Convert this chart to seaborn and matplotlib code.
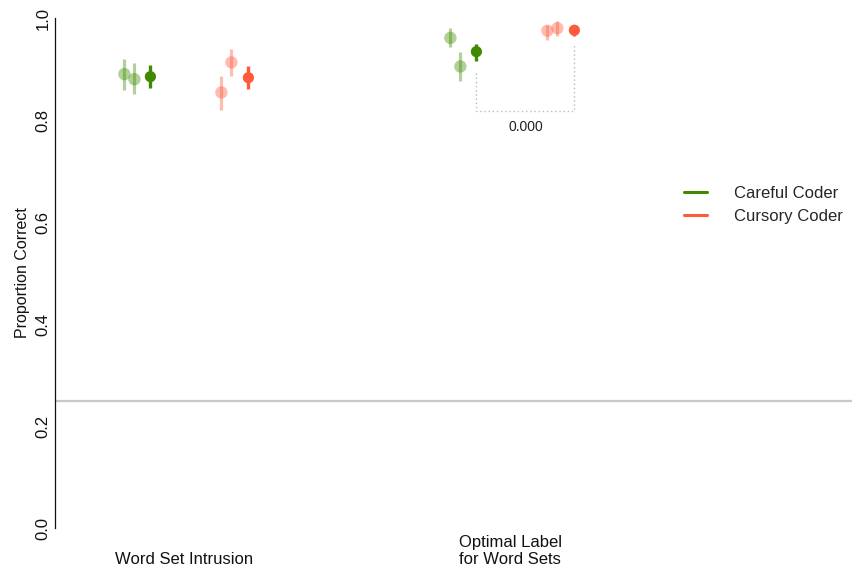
import matplotlib
matplotlib.use("Agg")
import matplotlib.pyplot as plt
import matplotlib.transforms as mtransforms
from matplotlib.lines import Line2D
import seaborn as sns
import pandas as pd
import numpy as np

# ---------------- data ----------------
tasks = ["Word Set Intrusion", "Optimal Label\nfor Word Sets"]
coders = ["Careful Coder", "Cursory Coder"]
kinds = ["sub1", "sub2", "mean"]

careful_val = [[0.890, 0.880, 0.885], [0.961, 0.905, 0.934]]
careful_lo = [[0.859, 0.851, 0.863], [0.943, 0.877, 0.916]]
careful_hi = [[0.920, 0.911, 0.907], [0.980, 0.933, 0.950]]

cursory_val = [[0.854, 0.913, 0.883], [0.975, 0.980, 0.976]]
cursory_lo = [[0.820, 0.887, 0.861], [0.957, 0.965, 0.965]]
cursory_hi = [[0.886, 0.939, 0.905], [0.986, 0.994, 0.986]]

chance_level = 0.25
bracket_label = "0.000"

# ---------------- styling ----------------
colors = {"Careful Coder": "#3F8A00", "Cursory Coder": "#FF5A3A"}
offsets = {"Careful Coder": [-60 / 326, -50 / 326, -34 / 326],
           "Cursory Coder": [37 / 326, 47 / 326, 64 / 326]}

rows = []
for ti, t in enumerate(tasks):
    for c, vals, los, his in [("Careful Coder", careful_val, careful_lo, careful_hi),
                              ("Cursory Coder", cursory_val, cursory_lo, cursory_hi)]:
        for ki, k in enumerate(kinds):
            rows.append(dict(task=t, coder=c, kind=k, x=ti + offsets[c][ki],
                             y=vals[ti][ki], lo=los[ti][ki], hi=his[ti][ki]))
df = pd.DataFrame(rows)

sns.set_theme(style="white")
plt.rcParams["font.family"] = ["Liberation Sans", "DejaVu Sans"]

fig = plt.figure(figsize=(8.52, 5.71), dpi=100)
ax = fig.add_axes([55 / 852, 43 / 571, 1 - 55 / 852, 510 / 571])

# chance line
ax.axhline(chance_level, color="#C8C8C8", lw=1.6, zorder=1)

light = df[df.kind != "mean"]
dark = df[df.kind == "mean"]

for _, r in light.iterrows():
    ax.vlines(r.x, r.lo, r.hi, color=colors[r.coder], alpha=0.4, lw=2.3, zorder=2)
sns.scatterplot(data=light, x="x", y="y", hue="coder", palette=colors, s=80,
                alpha=0.4, edgecolor="none", legend=False, ax=ax, zorder=3)
for _, r in dark.iterrows():
    ax.vlines(r.x, r.lo, r.hi, color=colors[r.coder], lw=2.4, zorder=4)
sns.scatterplot(data=dark, x="x", y="y", hue="coder", palette=colors, s=65,
                edgecolor="none", legend=False, ax=ax, zorder=5)

# significance bracket (task 2, careful mean vs cursory mean)
d2 = dark[dark.task == tasks[1]].set_index("coder")
xl = d2.loc["Careful Coder", "x"]
xr = d2.loc["Cursory Coder", "x"]
ybot = 0.818
ax.plot([xl, xl, xr, xr], [0.892, ybot, ybot, 0.947], ls=(0, (1, 2)),
        color="#BBBBBB", lw=1.0, zorder=1)
ax.text((xl + xr) / 2, 0.786, bracket_label, ha="center", va="center",
        fontsize=10, color="#222222")

ax.set_xlim(-0.397, 2.048)
ax.set_ylim(0, 1)
ax.set_xticks(range(len(tasks)))
ax.set_xticklabels([])
trans = mtransforms.blended_transform_factory(ax.transData, fig.transFigure)
for i, t in enumerate(tasks):
    ax.text(i, 4 / 571, t, transform=trans, ha="center", va="bottom",
            ma="center", fontsize=12, color="#111111", linespacing=1.15)
ax.set_yticks([0.0, 0.2, 0.4, 0.6, 0.8, 1.0])
ax.set_yticklabels(["0.0", "0.2", "0.4", "0.6", "0.8", "1.0"], rotation=90,
                   va="center")
ax.tick_params(axis="x", length=0)
ax.tick_params(axis="y", length=0, pad=3, labelsize=12, colors="#111111")
ax.set_xlabel("")
ax.set_ylabel("Proportion Correct", fontsize=11.5, color="#111111", labelpad=4)

for s in ["top", "right", "bottom"]:
    ax.spines[s].set_visible(False)
ax.spines["left"].set_color("#111111")
ax.spines["left"].set_linewidth(0.9)

handles = [Line2D([0], [0], color=colors[c], lw=2.2) for c in coders]
fig.legend(handles, coders, loc="upper left",
           bbox_to_anchor=(684 / 852, 1 - 186 / 571), frameon=False,
           fontsize=12, handlelength=1.4, handletextpad=1.6,
           labelspacing=0.45, borderpad=0, borderaxespad=0)

fig.savefig("out.png", dpi=100)
